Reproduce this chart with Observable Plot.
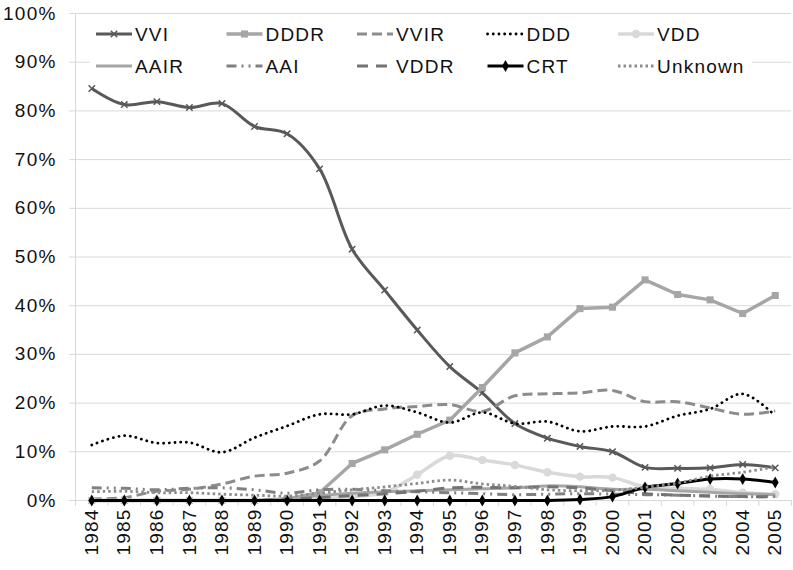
<!DOCTYPE html>
<html><head><meta charset="utf-8">
<script src="https://cdn.jsdelivr.net/npm/d3@7"></script>
<script src="https://cdn.jsdelivr.net/npm/@observablehq/plot@0.6"></script>
<style>
html,body{margin:0;padding:0;background:#fff;}
#chart{position:relative;width:793px;height:570px;}
svg text{font-family:"Liberation Sans", Arial, sans-serif;letter-spacing:1.2px;}
</style></head><body><div id="chart"></div>
<script>
// ---------- data ----------
const years = [1984,1985,1986,1987,1988,1989,1990,1991,1992,1993,1994,1995,1996,1997,1998,1999,2000,2001,2002,2003,2004,2005];
const VVI     = [84.6,81.3,81.9,80.7,81.5,76.8,75.3,68.1,51.6,43.2,35.0,27.5,22.1,15.8,12.8,11.1,10.0,6.8,6.6,6.7,7.4,6.7];
const DDDR    = [0,0,0,0,0,0,0.3,1.6,7.6,10.4,13.6,16.5,23.2,30.3,33.6,39.4,39.7,45.3,42.3,41.2,38.4,42.1];
const VVIR    = [0.3,0.6,1.9,2.3,3.4,5.0,5.6,8.1,17.4,18.8,19.3,19.7,18.3,21.5,21.9,22.1,22.6,20.3,20.3,19.0,17.7,18.4];
const DDD     = [11.4,13.3,11.8,11.9,9.9,12.9,15.3,17.7,17.7,19.5,18.1,16.0,18.1,15.8,16.2,14.2,15.2,15.2,17.4,18.8,21.9,17.4];
const VDD     = [0,0,0,0,0,0,0,0.3,0.8,1.6,5.3,9.2,8.3,7.3,5.8,4.9,4.7,2.8,2.5,2.3,1.6,1.3];
const AAIR    = [0,0,0,0,0,0,0.3,1.0,1.5,1.8,2.0,2.2,2.4,2.6,3.0,2.8,2.3,2.3,2.0,1.7,1.4,1.2];
const AAI     = [2.6,2.5,2.2,2.5,2.6,2.2,1.5,2.2,2.3,2.0,1.8,1.6,1.4,1.2,1.3,1.4,1.3,1.2,1.1,0.9,0.8,0.8];
const VDDR    = [0,0,0,0,0,0,0.3,0.6,1.0,1.4,1.9,2.6,2.7,2.6,2.8,2.6,2.0,1.4,1.1,0.9,0.8,0.8];
const CRT     = [0,0,0,0,0,0,0,0,0,0,0,0,0,0,0,0.2,0.8,2.7,3.5,4.4,4.4,3.7];
const Unknown = [1.8,1.9,1.6,1.6,1.3,1.1,0.9,1.5,2.2,2.8,3.5,4.2,3.4,2.9,2.2,2.0,2.1,2.7,3.6,5.0,5.8,6.9];
const seriesNames = ["VVI","DDDR","VVIR","DDD","VDD","AAIR","AAI","VDDR","CRT","Unknown"];
const seriesValues = [VVI,DDDR,VVIR,DDD,VDD,AAIR,AAI,VDDR,CRT,Unknown];
const yTicks = [0,10,20,30,40,50,60,70,80,90,100];

// ---------- styles ----------
const styles = {
  VVI:     {stroke:"#595959", width:3,   dash:null,            symbol:"times",  r:3,   curve:"catmull-rom"},
  DDDR:    {stroke:"#a6a6a6", width:3.5, dash:null,            symbol:"square", r:4,   curve:"linear"},
  VVIR:    {stroke:"#8c8c8c", width:3,   dash:"10,5",          symbol:null,     r:0,   curve:"catmull-rom"},
  DDD:     {stroke:"#000000", width:2.8, dash:"0.1,5.6",       symbol:null,     r:0,   curve:"catmull-rom", cap:"round"},
  VDD:     {stroke:"#d9d9d9", width:3.5, dash:null,            symbol:"circle", r:4.2, curve:"catmull-rom"},
  AAIR:    {stroke:"#a6a6a6", width:3,   dash:null,            symbol:null,     r:0,   curve:"catmull-rom"},
  AAI:     {stroke:"#808080", width:3,   dash:"10,5,2,5,2,5",  symbol:null,     r:0,   curve:"catmull-rom"},
  VDDR:    {stroke:"#737373", width:3,   dash:"11,8",          symbol:null,     r:0,   curve:"catmull-rom"},
  CRT:     {stroke:"#000000", width:3,   dash:null,            symbol:"diamond",r:3.6, curve:"catmull-rom"},
  Unknown: {stroke:"#8c8c8c", width:2.8, dash:"2.5,3",         symbol:null,     r:0,   curve:"catmull-rom"}
};

const xMin = years[0] - 0.5, xMax = years[years.length-1] + 0.5;
const boundaries = d3.range(xMin, xMax + 0.01, 1);

const marks = [
  Plot.gridY(yTicks, {stroke:"#d9d9d9", strokeOpacity:1, strokeWidth:1}),
  Plot.ruleX([xMin], {stroke:"#d9d9d9", strokeWidth:1}),
  Plot.axisY(yTicks, {label:null, tickSize:6, tickPadding:13, tickFormat:d => d + "%", fontSize:19, stroke:"#d9d9d9", fill:"#111"}),
  Plot.axisX(boundaries, {label:null, tickSize:6, tickFormat:() => "", stroke:"#d9d9d9"}),
  Plot.axisX(years, {label:null, tickSize:0, tickPadding:8, tickRotate:-90, tickFormat:d => String(d), fontSize:19, fill:"#111"})
];

seriesNames.forEach((name, i) => {
  const s = styles[name];
  const rows = years.map((yr, j) => ({year: yr, value: seriesValues[i][j]}));
  marks.push(Plot.line(rows, {x:"year", y:"value", stroke:s.stroke, strokeWidth:s.width,
    strokeDasharray:s.dash, strokeLinecap:s.cap || "butt", strokeLinejoin:"round", curve:s.curve}));
  if (s.symbol) {
    const isStroke = s.symbol === "times";
    marks.push(Plot.dot(rows, {x:"year", y:"value", symbol:s.symbol, r:s.r,
      fill: isStroke ? "none" : s.stroke, stroke: isStroke ? s.stroke : "none", strokeWidth: isStroke ? 1.5 : 0}));
  }
});

const chart = Plot.plot({
  width:793, height:570,
  marginLeft:75, marginRight:2, marginTop:13, marginBottom:70,
  x:{domain:[xMin, xMax], axis:null, label:null},
  y:{domain:[0,100], axis:null, label:null},
  style:{background:"#fff", color:"#111", fontFamily:"Liberation Sans, Arial, sans-serif"},
  marks
});
document.getElementById("chart").appendChild(chart);

// ---------- legend (inside plot area) ----------
const svg = d3.select(chart);
svg.selectAll('g[aria-label="y-axis tick"], g[aria-label="x-axis tick"]').attr("stroke", "#d9d9d9");
svg.selectAll('g[aria-label="y-axis tick label"], g[aria-label="x-axis tick label"]').attr("fill", "#111");
const lg = svg.append("g").attr("class", "legend").attr("text-anchor", "start");
lg.append("rect").attr("x", 90).attr("y", 16).attr("width", 662).attr("height", 66).attr("fill", "#fff");
const symMap = {times:d3.symbolTimes, square:d3.symbolSquare, circle:d3.symbolCircle, diamond:d3.symbolDiamond};
seriesNames.forEach((name, i) => {
  const s = styles[name];
  const col = i % 5, row = Math.floor(i / 5);
  const tx = 135 + col * 130.5, ty = 34 + row * 32;
  const g = lg.append("g");
  g.append("line").attr("x1", tx - 39).attr("x2", tx - 3).attr("y1", ty).attr("y2", ty)
    .attr("stroke", s.stroke).attr("stroke-width", s.width)
    .attr("stroke-dasharray", s.dash).attr("stroke-linecap", s.cap || "butt");
  if (s.symbol) {
    const isStroke = s.symbol === "times";
    g.append("path").attr("transform", `translate(${tx - 21},${ty})`)
      .attr("d", d3.symbol(symMap[s.symbol], Math.PI * s.r * s.r)())
      .attr("fill", isStroke ? "none" : s.stroke).attr("stroke", isStroke ? s.stroke : "none").attr("stroke-width", 1.5);
  }
  g.append("text").attr("x", tx).attr("y", ty).attr("dy", "0.35em").attr("text-anchor", "start")
    .attr("font-size", 19).attr("fill", "#111").text(name);
});
</script></body></html>
